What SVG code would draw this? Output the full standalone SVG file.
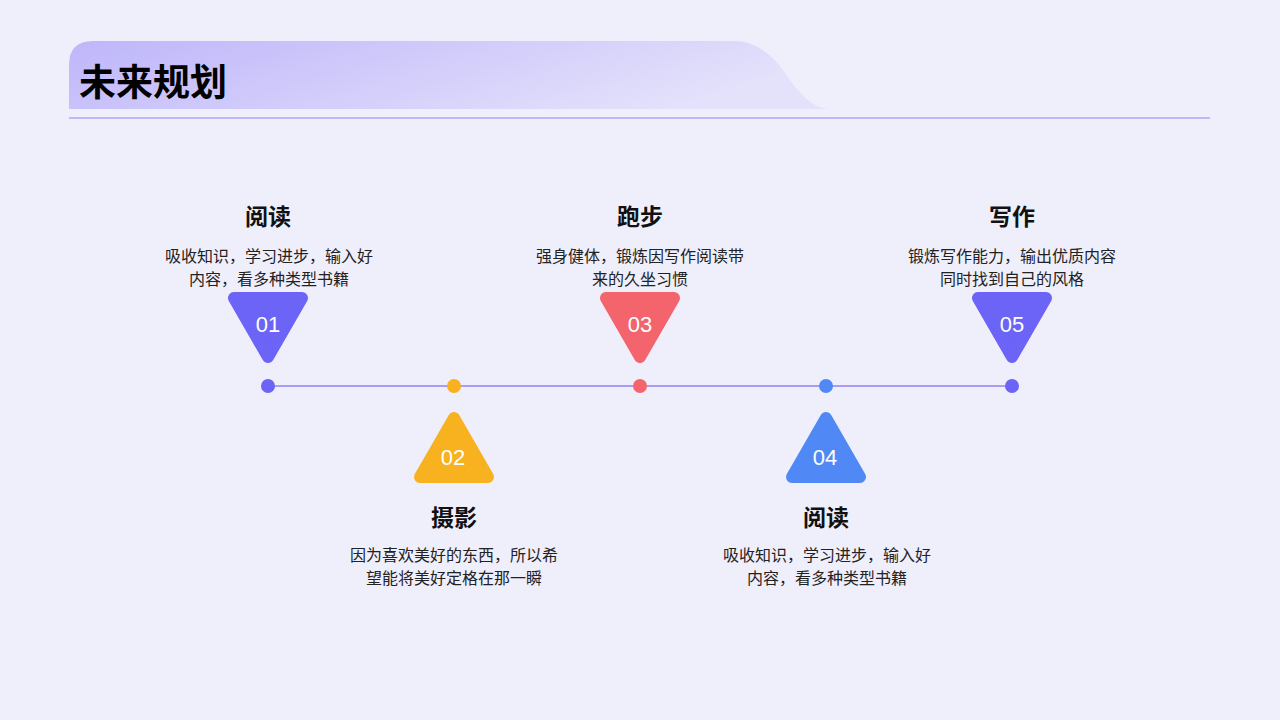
<svg xmlns="http://www.w3.org/2000/svg" width="1280" height="720" viewBox="0 0 1280 720">
<defs>
<linearGradient id="hg" x1="0" y1="0" x2="1" y2="0.3"><stop offset="0" stop-color="#beb6fa"/><stop offset="1" stop-color="#e4e1fb"/></linearGradient>
<style>
.t{font-family:"Noto Sans CJK SC","Liberation Sans",sans-serif;font-weight:bold;font-size:23px;fill:#111;text-anchor:middle}
.d{font-family:"Noto Sans CJK SC","Liberation Sans",sans-serif;font-size:16px;fill:#222;text-anchor:middle}
.n{font-family:"Liberation Sans",Arial,sans-serif;font-size:22px;fill:#fff;text-anchor:middle}
.tri{stroke-linejoin:round;stroke-width:12}
</style>
</defs>
<rect width="1280" height="720" fill="#efeefb"/>
<path d="M69 109 V65 Q69 41 93 41 H735 Q765 41 790 80 Q810 109 830 109 Z" fill="url(#hg)"/>
<text x="79" y="96" font-family="Noto Sans CJK SC,sans-serif" font-weight="bold" font-size="37" fill="#000">未来规划</text>
<line x1="69" y1="118" x2="1210" y2="118" stroke="#b0a6f6" stroke-width="1.5"/>
<g id="connectors"><line x1="268" y1="386" x2="1012" y2="386" stroke="#a99cf5" stroke-width="2"/></g>
<g id="n1"><circle cx="268" cy="386" r="7" fill="#6c63f7"/><path class="tri" d="M234 298 H302 L268 357 Z" fill="#6c63f7" stroke="#6c63f7"/><text class="n" x="268" y="332">01</text>
<text class="t" x="268" y="225">阅读</text><text class="d" x="269" y="262">吸收知识，学习进步，输入好</text><text class="d" x="269" y="285">内容，看多种类型书籍</text></g>
<g id="n2"><circle cx="454" cy="386" r="7" fill="#f8b11f"/><path class="tri" d="M420 477 H488 L454 418 Z" fill="#f8b11f" stroke="#f8b11f"/><text class="n" x="453" y="465">02</text>
<text class="t" x="454" y="526">摄影</text><text class="d" x="454" y="561">因为喜欢美好的东西，所以希</text><text class="d" x="454" y="584">望能将美好定格在那一瞬</text></g>
<g id="n3"><circle cx="640" cy="386" r="7" fill="#f4646c"/><path class="tri" d="M606 298 H674 L640 357 Z" fill="#f4646c" stroke="#f4646c"/><text class="n" x="640" y="332">03</text>
<text class="t" x="640" y="225">跑步</text><text class="d" x="640" y="262">强身健体，锻炼因写作阅读带</text><text class="d" x="640" y="285">来的久坐习惯</text></g>
<g id="n4"><circle cx="826" cy="386" r="7" fill="#5089f6"/><path class="tri" d="M792 477 H860 L826 418 Z" fill="#5089f6" stroke="#5089f6"/><text class="n" x="825" y="465">04</text>
<text class="t" x="826" y="526">阅读</text><text class="d" x="827" y="561">吸收知识，学习进步，输入好</text><text class="d" x="827" y="584">内容，看多种类型书籍</text></g>
<g id="n5"><circle cx="1012" cy="386" r="7" fill="#6c63f7"/><path class="tri" d="M978 298 H1046 L1012 357 Z" fill="#6c63f7" stroke="#6c63f7"/><text class="n" x="1012" y="332">05</text>
<text class="t" x="1012" y="225">写作</text><text class="d" x="1012" y="262">锻炼写作能力，输出优质内容</text><text class="d" x="1012" y="285">同时找到自己的风格</text></g>
</svg>
